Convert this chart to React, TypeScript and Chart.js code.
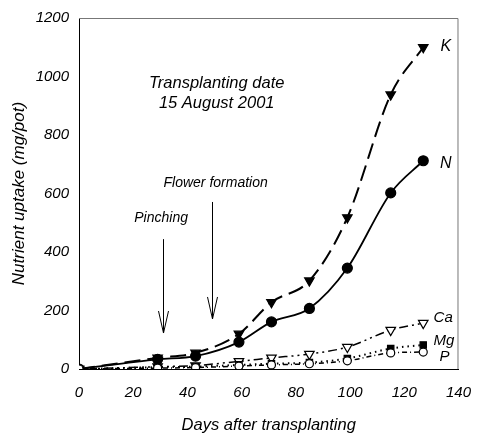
import React, { useEffect, useRef } from "react";
import { Chart, registerables } from "chart.js";

Chart.register(...registerables);

const days = [0, 29, 43, 59, 71, 85, 99, 115, 127];
const K = [0, 38, 55, 120, 228, 302, 518, 938, 1100];
const N = [0, 33, 44, 92, 161, 207, 345, 602, 712];
const Ca = [0, 8, 12, 26, 38, 51, 75, 133, 157];
const Mg = [0, 6, 8, 14, 18, 22, 36, 70, 82];
const P = [0, 3, 5, 10, 14, 18, 28, 55, 58];
const xTicks = [0, 20, 40, 60, 80, 100, 120, 140];
const yTicks = [0, 200, 400, 600, 800, 1000, 1200];

const FONT = "'Liberation Sans', Arial, sans-serif";

const seriesLabels = [
  { text: "K", x: 133.4, y: 1101, size: 16 },
  { text: "N", x: 133.2, y: 704, size: 16 },
  { text: "Ca", x: 130.8, y: 174, size: 15 },
  { text: "Mg", x: 130.8, y: 96, size: 15 },
  { text: "P", x: 133.0, y: 41, size: 15 },
];

const annotations = {
  id: "annotations",
  afterDatasetsDraw(chart: any) {
    const { ctx, scales, chartArea } = chart;
    const xs = scales.x, ys = scales.y;
    ctx.save();
    // frame top/right
    ctx.strokeStyle = "#777";
    ctx.lineWidth = 1;
    ctx.beginPath();
    ctx.moveTo(chartArea.left, chartArea.top + 0.5);
    ctx.lineTo(chartArea.right - 0.5, chartArea.top + 0.5);
    ctx.lineTo(chartArea.right - 0.5, chartArea.bottom);
    ctx.stroke();

    ctx.fillStyle = "#000";
    ctx.textAlign = "center";
    ctx.textBaseline = "middle";
    ctx.font = `italic 16.5px ${FONT}`;
    ctx.fillText("Transplanting date", xs.getPixelForValue(50.8), ys.getPixelForValue(978));
    ctx.fillText("15 August 2001", xs.getPixelForValue(50.8), ys.getPixelForValue(909));
    ctx.font = `italic 14px ${FONT}`;
    ctx.fillText("Flower formation", xs.getPixelForValue(50.4), ys.getPixelForValue(636));
    ctx.fillText("Pinching", xs.getPixelForValue(30.3), ys.getPixelForValue(516));

    const arrow = (xv: number, y1: number, y2: number) => {
      const x = Math.round(xs.getPixelForValue(xv)) + 0.5;
      const top = ys.getPixelForValue(y1);
      const bot = ys.getPixelForValue(y2);
      ctx.strokeStyle = "#000";
      ctx.lineWidth = 1;
      ctx.beginPath();
      ctx.moveTo(x, top);
      ctx.lineTo(x, bot);
      ctx.moveTo(x - 5, bot - 22);
      ctx.lineTo(x, bot);
      ctx.lineTo(x + 5, bot - 22);
      ctx.stroke();
    };
    arrow(31.1, 444, 123);
    arrow(49, 571, 171);

    ctx.textAlign = "left";
    for (const l of seriesLabels) {
      ctx.font = `italic ${l.size}px ${FONT}`;
      ctx.fillText(l.text, xs.getPixelForValue(l.x), ys.getPixelForValue(l.y));
    }
    ctx.restore();
  },
};

export default function App() {
  const ref = useRef<HTMLCanvasElement>(null);
  useEffect(() => {
    const common = {
      borderColor: "#000",
      pointBorderColor: "#000",
      borderWidth: 1.8,
      cubicInterpolationMode: "monotone" as const,
      pointBorderWidth: 1.2,
    };
    const chart = new Chart(ref.current!, {
      type: "line",
      data: {
        labels: days,
        datasets: [
          { ...common, label: "P", data: days.map((d, i) => ({ x: d, y: P[i] })), borderDash: [5, 3, 1, 3], pointStyle: "circle", pointRadius: 4, pointBackgroundColor: "#fff", borderWidth: 1.5 },
          { ...common, label: "Mg", data: days.map((d, i) => ({ x: d, y: Mg[i] })), borderDash: [1.5, 4], pointStyle: "rect", pointRadius: 4.5, pointBackgroundColor: "#000", borderWidth: 2 },
          { ...common, label: "Ca", data: days.map((d, i) => ({ x: d, y: Ca[i] })), borderDash: [9, 4, 2, 4, 2, 4], pointStyle: "triangle", rotation: 180, pointRadius: 5.5, pointBackgroundColor: "#fff", borderWidth: 1.5 },
          { ...common, label: "N", data: days.map((d, i) => ({ x: d, y: N[i] })), pointStyle: "circle", pointRadius: 5, pointBackgroundColor: "#000" },
          { ...common, label: "K", data: days.map((d, i) => ({ x: d, y: K[i] })), borderDash: [16, 7], pointStyle: "triangle", rotation: 180, pointRadius: 5.5, pointBackgroundColor: "#000", borderWidth: 2 },
        ],
      },
      options: {
        animation: false,
        responsive: false,
        maintainAspectRatio: false,
        layout: { padding: { top: 18, right: 19, left: 9, bottom: 0 } },
        plugins: { legend: { display: false }, tooltip: { enabled: false } },
        scales: {
          x: {
            type: "linear",
            min: 0,
            max: 140,
            afterBuildTicks: (s: any) => { s.ticks = xTicks.map((v) => ({ value: v })); },
            afterFit: (s: any) => { s.height = 66; },
            grid: { display: false, drawTicks: true, tickLength: 5, color: "#000" },
            border: { color: "#000", width: 1 },
            ticks: { color: "#000", font: { family: FONT, size: 15, style: "italic" }, padding: 10, maxRotation: 0, callback: (v: any) => String(v) },
            title: { display: true, text: "Days after transplanting", color: "#000", font: { family: FONT, size: 16.5, style: "italic" }, padding: { top: 10, bottom: 0 } },
          },
          y: {
            type: "linear",
            min: 0,
            max: 1200,
            afterBuildTicks: (s: any) => { s.ticks = yTicks.map((v) => ({ value: v })); },
            afterFit: (s: any) => { s.width = 70; },
            grid: { display: false, drawTicks: true, tickLength: 7, color: "#000" },
            border: { color: "#000", width: 1 },
            ticks: { color: "#000", font: { family: FONT, size: 15, style: "italic" }, padding: 3, callback: (v: any) => String(v) },
            title: { display: true, text: "Nutrient uptake (mg/pot)", color: "#000", font: { family: FONT, size: 17, style: "italic" }, padding: { top: 0, bottom: 4 } },
          },
        },
      },
      plugins: [annotations],
    } as any);
    return () => chart.destroy();
  }, []);
  return (
    <div style={{ position: "fixed", left: 0, top: 0, width: 481, height: 435, background: "#fff" }}>
      <canvas ref={ref} width={481} height={435} style={{ width: 481, height: 435, display: "block" }} />
    </div>
  );
}
